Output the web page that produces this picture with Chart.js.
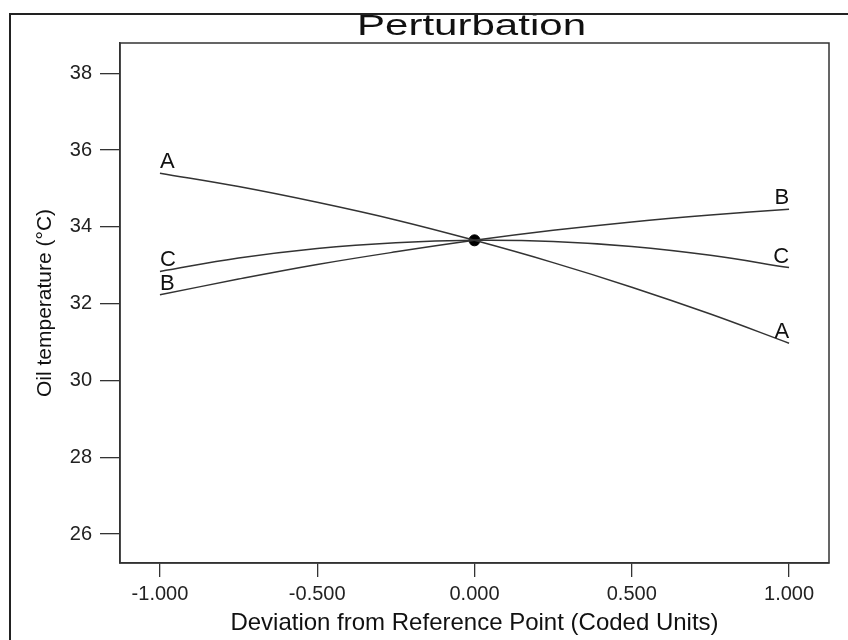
<!DOCTYPE html>
<html>
<head>
<meta charset="utf-8">
<script src="https://cdn.jsdelivr.net/npm/chart.js@4/dist/chart.umd.min.js"></script>
<style>
  html, body { margin: 0; padding: 0; background: #fff; }
  canvas { display: block; }
</style>
</head>
<body>
<canvas id="chart" width="848" height="640"></canvas>
<script>
"use strict";

// Perturbation plot: oil temperature vs deviation from reference point (coded units).

const xValues = [-1, -0.75, -0.5, -0.25, 0, 0.25, 0.5, 0.75, 1];
const seriesA = [35.40, 35.05, 34.64, 34.18, 33.65, 33.07, 32.43, 31.73, 30.97];
const seriesB = [32.23, 32.64, 33.02, 33.35, 33.65, 33.91, 34.13, 34.31, 34.46];
const seriesC = [32.84, 33.19, 33.44, 33.59, 33.65, 33.62, 33.49, 33.26, 32.94];
const seriesNames = ["A", "B", "C"];
const refPoint = [{ x: 0, y: 33.65 }];

const xTicks = [-1, -0.5, 0, 0.5, 1];
const yTicks = [26, 28, 30, 32, 34, 36, 38];

const FONT = "'Liberation Sans', Arial, sans-serif";
const INK = "#222";

const pts = (ys) => ys.map((y, i) => ({ x: xValues[i], y }));

// ---------- custom drawing: frame, title, plot box, curve labels ----------
const decor = {
  id: "decor",
  afterDraw(chart) {
    const { ctx, chartArea: a, scales: { x, y } } = chart;
    ctx.save();
    // outer frame (left + top)
    ctx.strokeStyle = INK; ctx.lineWidth = 2;
    ctx.beginPath();
    ctx.moveTo(10, chart.height + 2); ctx.lineTo(10, 14); ctx.lineTo(chart.width + 2, 14);
    ctx.stroke();
    // plot box
    ctx.strokeStyle = "#333"; ctx.lineWidth = 1.5;
    ctx.strokeRect(a.left, a.top, a.right - a.left, a.bottom - a.top);
    // title (wide face), clipped by the frame
    ctx.save();
    ctx.beginPath(); ctx.rect(11, 15, chart.width, a.top - 15); ctx.clip();
    ctx.translate((a.left + a.right) / 2 - 3, 34.5);
    ctx.scale(1.45, 1);
    ctx.fillStyle = "#111"; ctx.font = "29px " + FONT;
    ctx.textAlign = "center"; ctx.textBaseline = "alphabetic";
    ctx.fillText("Perturbation", 0, 0);
    ctx.restore();
    // curve labels at both ends
    ctx.fillStyle = "#111"; ctx.font = "22px " + FONT; ctx.textBaseline = "alphabetic";
    chart.data.datasets.forEach((ds) => {
      if (!ds.tag) return;
      const first = ds.data[0], last = ds.data[ds.data.length - 1];
      ctx.textAlign = "left";
      ctx.fillText(ds.tag, x.getPixelForValue(first.x), y.getPixelForValue(first.y) - 5);
      ctx.textAlign = "right";
      ctx.fillText(ds.tag, x.getPixelForValue(last.x), y.getPixelForValue(last.y) - 5);
    });
    ctx.restore();
  }
};

const curve = (name, ys) => ({
  tag: name, label: name, data: pts(ys),
  borderColor: "#333", borderWidth: 1.5, pointRadius: 0, tension: 0.4, fill: false,
});

new Chart(document.getElementById("chart"), {
  type: "line",
  data: {
    datasets: [
      curve(seriesNames[0], seriesA),
      curve(seriesNames[1], seriesB),
      curve(seriesNames[2], seriesC),
      { label: "ref", data: refPoint, showLine: false, pointRadius: 5.5,
        pointBackgroundColor: "#000", pointBorderColor: "#000" },
    ],
  },
  options: {
    responsive: false, animation: false, devicePixelRatio: 1,
    layout: { padding: { left: 0, top: 43, right: 19, bottom: 0 } },
    plugins: { legend: { display: false }, tooltip: { enabled: false }, title: { display: false } },
    scales: {
      x: {
        type: "linear", min: -1.127, max: 1.127,
        afterBuildTicks: s => { s.ticks = xTicks.map(v => ({ value: v })); },
        afterFit: s => { s.height = 77; },
        grid: { drawOnChartArea: false, drawTicks: true, tickLength: 14, color: "#333", lineWidth: 1.3 },
        border: { display: true, color: "#333", width: 1.5 },
        ticks: { font: { family: FONT, size: 20 }, color: INK, padding: 5,
                 maxRotation: 0, callback: v => v.toFixed(3) },
        title: { display: true, text: "Deviation from Reference Point (Coded Units)",
                 font: { family: FONT, size: 24 }, color: "#111", padding: { top: 0, bottom: 2 } },
      },
      y: {
        type: "linear", min: 25.245, max: 38.79,
        afterBuildTicks: s => { s.ticks = yTicks.map(v => ({ value: v })); },
        afterFit: s => { s.width = 120; },
        grid: { drawOnChartArea: false, drawTicks: true, tickLength: 20, color: "#333", lineWidth: 1.3 },
        border: { display: true, color: "#333", width: 1.5 },
        ticks: { font: { family: FONT, size: 20 }, color: INK, padding: 8 },
        title: { display: true, text: "Oil temperature (°C)",
                 font: { family: FONT, size: 21 }, color: "#111", padding: { top: 33, bottom: 0 } },
      },
    },
  },
  plugins: [decor],
});
</script>
</body>
</html>
